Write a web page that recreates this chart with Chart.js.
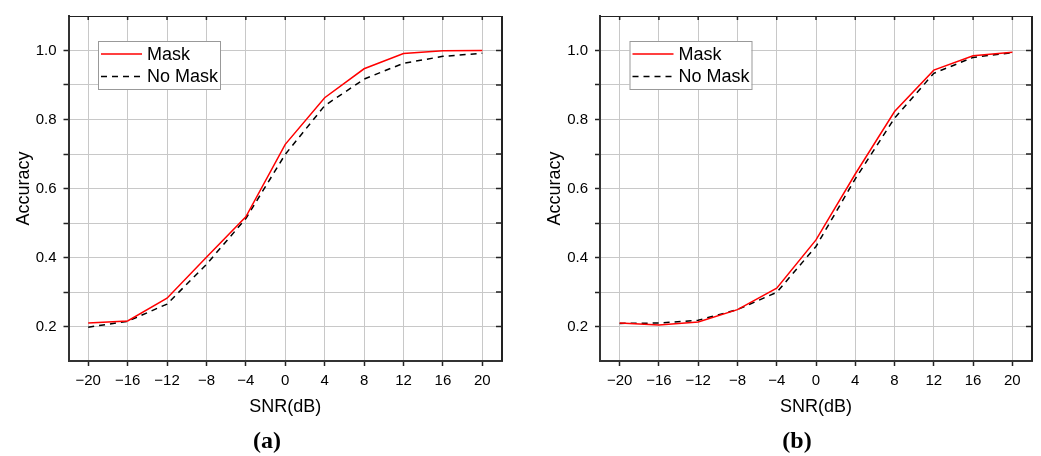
<!DOCTYPE html>
<html>
<head>
<meta charset="utf-8">
<script src="https://cdn.jsdelivr.net/npm/chart.js@4.4.1/dist/chart.umd.min.js"></script>
<style>
    html, body { margin: 0; padding: 0; background: #fff; }
    #wrap { position: relative; width: 1041px; height: 456px; overflow: hidden; }
    canvas { position: absolute; top: 0; }
    #chartA { left: 0; }
    #chartB { left: 520px; }
    .caption {
        position: absolute; top: 427px; transform: translateX(-50%);
        font-family: "Liberation Serif", "DejaVu Serif", serif;
        font-weight: bold; font-size: 24px; color: #000;
    }
</style>
</head>
<body>
<div id="wrap">
    <canvas id="chartA" width="520" height="456"></canvas>
    <canvas id="chartB" width="521" height="456"></canvas>
    <div class="caption" style="left: 267px;">(a)</div>
    <div class="caption" style="left: 797px;">(b)</div>
</div>
<script>
// SNR values (dB) on x axis
const snr = [-20, -16, -12, -8, -4, 0, 4, 8, 12, 16, 20];
const yTicks = [0.2, 0.3, 0.4, 0.5, 0.6, 0.7, 0.8, 0.9, 1.0];
const yLabels = [0.2, 0.4, 0.6, 0.8, 1.0];

// (a)
const maskA   = [0.210, 0.216, 0.282, 0.401, 0.518, 0.728, 0.863, 0.947, 0.991, 0.999, 1.000];
const noMaskA = [0.198, 0.215, 0.265, 0.380, 0.513, 0.699, 0.840, 0.917, 0.963, 0.983, 0.992];

// (b)
const maskB   = [0.210, 0.204, 0.213, 0.249, 0.311, 0.451, 0.642, 0.823, 0.943, 0.985, 0.995];
const noMaskB = [0.209, 0.210, 0.218, 0.249, 0.299, 0.432, 0.628, 0.804, 0.934, 0.980, 0.994];

const FONT = '"Liberation Sans", Arial, sans-serif';

// top/right frame with inward ticks
const framePlugin = {
    id: 'frame',
    afterDraw(chart) {
        const { ctx, chartArea: a, scales } = chart;
        ctx.save();
        ctx.strokeStyle = '#222';
        ctx.lineWidth = 1;
        ctx.beginPath();
        ctx.moveTo(a.left, a.top + 0.5);
        ctx.lineTo(a.right, a.top + 0.5);
        ctx.stroke();
        ctx.lineWidth = 2;
        ctx.beginPath();
        ctx.moveTo(a.right, a.top);
        ctx.lineTo(a.right, a.bottom);
        ctx.stroke();
        ctx.lineWidth = 1.5;
        scales.x.ticks.forEach(t => {
            const px = scales.x.getPixelForValue(t.value);
            ctx.beginPath();
            ctx.moveTo(px, a.top);
            ctx.lineTo(px, a.top + 4);
            ctx.stroke();
        });
        scales.y.ticks.forEach(t => {
            const py = scales.y.getPixelForValue(t.value);
            ctx.beginPath();
            ctx.moveTo(a.right, py);
            ctx.lineTo(a.right - 6, py);
            ctx.stroke();
        });
        ctx.restore();
    }
};

// boxed legend inside the plot
const boxLegendPlugin = {
    id: 'boxLegend',
    afterDraw(chart) {
        const { ctx, chartArea: a } = chart;
        const x0 = a.left + 29.5, y0 = a.top + 25;
        const w = 122, h = 48;
        ctx.save();
        ctx.fillStyle = '#fff';
        ctx.fillRect(x0, y0, w, h);
        ctx.strokeStyle = '#999';
        ctx.lineWidth = 1;
        ctx.strokeRect(x0 + 0.5, y0 + 0.5, w, h);
        ctx.font = '18px ' + FONT;
        ctx.textBaseline = 'middle';
        chart.data.datasets.forEach((ds, i) => {
            const ly = y0 + 13 + i * 22.5;
            ctx.strokeStyle = ds.borderColor;
            ctx.lineWidth = ds.borderWidth;
            ctx.setLineDash(ds.borderDash || []);
            ctx.beginPath();
            ctx.moveTo(x0 + 3, ly);
            ctx.lineTo(x0 + 44, ly);
            ctx.stroke();
            ctx.setLineDash([]);
            ctx.fillStyle = '#000';
            ctx.fillText(ds.label, x0 + 49, ly + 1);
        });
        ctx.restore();
    }
};

function makeChart(id, mask, noMask, padLeft, padRight) {
    return new Chart(document.getElementById(id), {
        type: 'line',
        data: {
            datasets: [
                {
                    label: 'Mask',
                    data: snr.map((x, i) => ({ x, y: mask[i] })),
                    borderColor: '#ff0000',
                    borderWidth: 1.5,
                    pointRadius: 0,
                    tension: 0
                },
                {
                    label: 'No Mask',
                    data: snr.map((x, i) => ({ x, y: noMask[i] })),
                    borderColor: '#000000',
                    borderWidth: 1.5,
                    borderDash: [6, 5],
                    pointRadius: 0,
                    tension: 0
                }
            ]
        },
        options: {
            responsive: false,
            animation: false,
            layout: { padding: { top: 12, right: padRight, bottom: 35, left: padLeft } },
            plugins: {
                legend: { display: false },
                tooltip: { enabled: false }
            },
            scales: {
                x: {
                    type: 'linear',
                    min: -22,
                    max: 22,
                    afterBuildTicks: (s) => { s.ticks = snr.map(v => ({ value: v })); },
                    afterFit: (s) => { s.height = 60; },
                    border: { color: '#333', width: 2 },
                    grid: { color: '#c8c8c8', lineWidth: 1, tickLength: 5, tickColor: '#222', tickWidth: 1.5 },
                    ticks: {
                        font: { family: FONT, size: 15 },
                        color: '#000',
                        padding: 6,
                        maxRotation: 0,
                        callback: (v) => v < 0 ? '\u2212' + Math.abs(v) : String(v)
                    },
                    title: {
                        display: true,
                        text: 'SNR(dB)',
                        font: { family: FONT, size: 18 },
                        color: '#000',
                        padding: { top: 4, bottom: 3.5 }
                    }
                },
                y: {
                    min: 0.1,
                    max: 1.1,
                    afterBuildTicks: (s) => { s.ticks = yTicks.map(v => ({ value: v })); },
                    afterFit: (s) => { s.width = 68.5; },
                    border: { color: '#333', width: 2 },
                    grid: { color: '#c8c8c8', lineWidth: 1, tickLength: 5, tickColor: '#222', tickWidth: 1.5 },
                    ticks: {
                        font: { family: FONT, size: 15 },
                        color: '#000',
                        padding: 7,
                        callback: (v) => yLabels.some(l => Math.abs(l - v) < 1e-6) ? v.toFixed(1) : ''
                    },
                    title: {
                        display: true,
                        text: 'Accuracy',
                        font: { family: FONT, size: 18 },
                        color: '#000',
                        padding: { top: 13, bottom: 0 }
                    }
                }
            }
        },
        plugins: [framePlugin, boxLegendPlugin]
    });
}

makeChart('chartA', maskA, noMaskA, 0, 18);
makeChart('chartB', maskB, noMaskB, 11.5, 9);
</script>
</body>
</html>
